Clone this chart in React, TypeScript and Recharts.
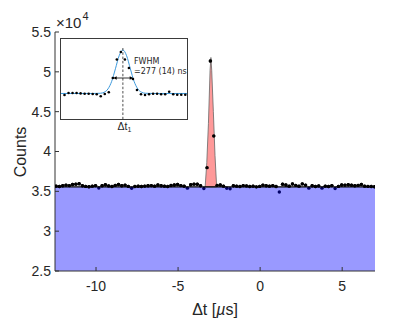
import React from "react";
import { ComposedChart, Area, Line, Scatter, XAxis, YAxis, ReferenceLine } from "recharts";

// main histogram, bin centres in µs
const binCenters = [
  -12.43, -12.23, -12.03, -11.83, -11.63, -11.43, -11.23, -11.03, -10.83, -10.63,
  -10.43, -10.23, -10.03, -9.83, -9.63, -9.43, -9.23, -9.03, -8.83, -8.63,
  -8.43, -8.23, -8.03, -7.83, -7.63, -7.43, -7.23, -7.03, -6.83, -6.63,
  -6.43, -6.23, -6.03, -5.83, -5.63, -5.43, -5.23, -5.03, -4.83, -4.63,
  -4.43, -4.23, -4.03, -3.83, -3.63, -3.43, -3.23, -3.03, -2.83, -2.63,
  -2.43, -2.23, -2.03, -1.83, -1.63, -1.43, -1.23, -1.03, -0.83, -0.63,
  -0.43, -0.23, -0.03, 0.17, 0.37, 0.57, 0.77, 0.97, 1.17, 1.37,
  1.57, 1.77, 1.97, 2.17, 2.37, 2.57, 2.77, 2.97, 3.17, 3.37,
  3.57, 3.77, 3.97, 4.17, 4.37, 4.57, 4.77, 4.97, 5.17, 5.37,
  5.57, 5.77, 5.97, 6.17, 6.37, 6.57, 6.77, 6.97,
];
const counts = [
  35650, 35600, 35700, 35780, 35720, 35850, 35900, 35950, 35700, 35620,
  35580, 35650, 35720, 35420, 35700, 35830, 35680, 35600, 35750, 35850,
  35700, 35780, 35620, 35380, 35600, 35640, 35610, 35660, 35700, 35720,
  35650, 35800, 35700, 35650, 35600, 35740, 35800, 35860, 35720, 35650,
  35400, 35820, 35900, 35880, 35700, 35350, 37970, 51360, 41950, 35750,
  35800, 35650, 35380, 35330, 35700, 35650, 35600, 35720, 35680, 35600,
  35650, 35560, 35620, 35780, 35700, 35650, 35720, 35600, 34920, 35880,
  35800, 35650, 35920, 35750, 35650, 35930, 35780, 35400, 35700, 35600,
  35680, 35400, 35650, 35600, 35720, 35350, 35620, 35800, 35780, 35820,
  35760, 35700, 35750, 35850, 35650, 35620, 35600, 35580,
];
const backgroundLevel = 35550;
const rangeStart = -12.5;
const rangeEnd = 7;

// fitted peak
const peakTimes = [-3.35, -3.25, -3.15, -3.05, -3.0, -2.95, -2.85, -2.75, -2.65];
const peakCounts = [35550, 38600, 43500, 50200, 51800, 50200, 45000, 39500, 35550];

const xTicks = [-10, -5, 0, 5];
const yTicks = [25000, 30000, 35000, 40000, 45000, 50000, 55000];

// inset (ns, arbitrary units)
const insetTimes = [
  -783, -729, -675, -621, -567, -513, -459, -405, -351, -297, -243, -189, -135, -81,
  -27, 27, 81, 135, 189, 243, 297, 351, 405, 459, 513, 567, 621, 675, 729, 783, 837,
];
const insetCounts = [
  30.0, 32.5, 32.5, 32.5, 32.0, 31.6, 31.6, 31.3, 30.9, 28.4, 31.3, 33.4, 51.3, 74.4,
  83.8, 74.4, 63.8, 50.0, 36.3, 30.9, 30.0, 30.9, 31.6, 31.6, 30.9, 30.9, 34.1, 30.9, 30.4, 30.4, 30.4,
];
const fitTimes = [-830, -400, -300, -250, -200, -150, -100, -50, 0, 50, 100, 150, 200, 250, 300, 400, 860];
const fitValues = [31.9, 31.9, 32.2, 33.5, 37.6, 47.1, 62.8, 79.1, 86.25, 79.1, 62.8, 47.1, 37.6, 33.5, 32.2, 31.9, 31.9];

const FONT = "'Liberation Sans', Arial, sans-serif";
const TXT = "#262626";

const mainDots = binCenters.map((x, i) => ({ x, y: counts[i] }));
const dotsAbove = mainDots.filter((d) => d.y > backgroundLevel);
const flat = [
  { x: rangeStart, y: backgroundLevel },
  { x: rangeEnd, y: backgroundLevel },
];
const peak = peakTimes.map((x, i) => ({ x, range: [backgroundLevel, peakCounts[i]] }));
const insetDots = insetTimes.map((x, i) => ({ x, y: insetCounts[i] }));
const fit = fitTimes.map((x, i) => ({ x, y: fitValues[i] }));

const dot = (r: number) => (p: any) => <circle cx={p.cx} cy={p.cy} r={r} fill="#000" />;

const Arrow = (p: any) => {
  const { x1, y1, x2, y2 } = p;
  return (
    <g>
      <line x1={x1 + 2} y1={y1} x2={x2 - 2} y2={y2} stroke="#000" strokeWidth={0.8} />
      <polygon points={`${x1},${y1} ${x1 + 3.5},${y1 - 1.8} ${x1 + 3.5},${y1 + 1.8}`} fill="#000" />
      <polygon points={`${x2},${y2} ${x2 - 3.5},${y2 - 1.8} ${x2 - 3.5},${y2 + 1.8}`} fill="#000" />
    </g>
  );
};

function Inset() {
  return (
    <div
      style={{
        position: "absolute",
        left: 60,
        top: 38,
        width: 128,
        height: 82,
        boxSizing: "border-box",
        border: "1px solid #3a3a3a",
        background: "#fff",
      }}
    >
      <ComposedChart width={126} height={80} margin={{ top: 0, right: 0, bottom: 0, left: 0 }}>
        <XAxis type="number" dataKey="x" domain={[-830, 860]} hide allowDataOverflow />
        <YAxis type="number" domain={[0, 100]} hide allowDataOverflow />
        <Line data={fit} dataKey="y" type="monotone" stroke="#3c99dc" strokeWidth={1} dot={false} isAnimationActive={false} />
        <ReferenceLine segment={[{ x: 0, y: 88.75 }, { x: 0, y: 0 }]} stroke="#222" strokeDasharray="2.5 1.8" strokeWidth={0.8} />
        <ReferenceLine segment={[{ x: -130, y: 51.25 }, { x: 138, y: 51.25 }]} shape={Arrow} />
        <Scatter data={insetDots} dataKey="y" shape={dot(1.3)} isAnimationActive={false} />
      </ComposedChart>
    </div>
  );
}

export default function App() {
  return (
    <div style={{ position: "absolute", left: 0, top: 0, width: 415, height: 321, background: "#fff" }}>
      <ComposedChart width={415} height={321} margin={{ top: 32, right: 40, bottom: 0, left: 0 }}>
        <XAxis
          xAxisId="bottom"
          type="number"
          dataKey="x"
          domain={[rangeStart, rangeEnd]}
          ticks={xTicks}
          allowDataOverflow
          height={50}
          tickSize={-4}
          tickMargin={14}
          stroke="#333"
          tick={{ fill: TXT, fontSize: 14, fontFamily: FONT }}
          tickFormatter={(v) => String(v)}
        />
        <XAxis
          xAxisId="top"
          orientation="top"
          type="number"
          dataKey="x"
          domain={[rangeStart, rangeEnd]}
          ticks={xTicks}
          allowDataOverflow
          height={0}
          tickSize={-4}
          tick={false}
          stroke="#555"
        />
        <YAxis
          yAxisId="left"
          type="number"
          domain={[25000, 55000]}
          ticks={yTicks}
          allowDataOverflow
          width={55}
          tickSize={-4}
          tickMargin={8}
          stroke="#333"
          tick={{ fill: TXT, fontSize: 14, fontFamily: FONT }}
          tickFormatter={(v) => String(v / 10000)}
        />
        <YAxis
          yAxisId="right"
          orientation="right"
          type="number"
          domain={[25000, 55000]}
          ticks={yTicks}
          allowDataOverflow
          width={0}
          tickSize={-4}
          tick={false}
          stroke="#555"
        />
        <Scatter
          xAxisId="bottom"
          yAxisId="left"
          data={mainDots}
          dataKey="y"
          shape={dot(1.7)}
          zIndex={50}
          isAnimationActive={false}
        />
        <Area
          xAxisId="bottom"
          yAxisId="left"
          data={flat}
          dataKey="y"
          type="linear"
          baseValue={25000}
          fill="#0000ff"
          fillOpacity={0.4}
          stroke="none"
          zIndex={100}
          isAnimationActive={false}
        />
        <Area
          xAxisId="bottom"
          yAxisId="left"
          data={peak}
          dataKey="range"
          type="linear"
          fill="#ff9999"
          fillOpacity={1}
          stroke="#666"
          strokeWidth={0.8}
          zIndex={110}
          isAnimationActive={false}
        />
        <Line
          xAxisId="top"
          yAxisId="right"
          data={flat}
          dataKey="y"
          type="linear"
          stroke="#000"
          strokeWidth={1.3}
          dot={false}
          zIndex={400}
          isAnimationActive={false}
        />
        <Scatter
          xAxisId="bottom"
          yAxisId="left"
          data={dotsAbove}
          dataKey="y"
          shape={dot(1.7)}
          zIndex={600}
          isAnimationActive={false}
        />
      </ComposedChart>
      <Inset />
      <svg width={415} height={321} style={{ position: "absolute", left: 0, top: 0, pointerEvents: "none" }}>
        <text x={56} y={27.5} fontSize={15} fontFamily={FONT} fill={TXT}>
          ×10
        </text>
        <text x={82.5} y={20} fontSize={11} fontFamily={FONT} fill={TXT}>
          4
        </text>
        <text
          x={20}
          y={152}
          transform="rotate(-90 20 152)"
          textAnchor="middle"
          dy="0.35em"
          fontSize={16}
          fontFamily={FONT}
          fill={TXT}
        >
          Counts
        </text>
        <text x={215} y={315} textAnchor="middle" fontSize={16} fontFamily={FONT} fill={TXT}>
          Δt [<tspan fontStyle="italic">µ</tspan>s]
        </text>
        <text x={134} y={64} fontSize={8} fontFamily="'DejaVu Sans', sans-serif" fill={TXT}>
          FWHM
        </text>
        <text x={134} y={73.5} fontSize={8} fontFamily="'DejaVu Sans', sans-serif" fill={TXT}>
          =277 (14) ns
        </text>
        <text x={117.5} y={130} fontSize={10.5} fontFamily={FONT} fill={TXT}>
          Δt
          <tspan fontSize={7} dy={2}>
            1
          </tspan>
        </text>
      </svg>
    </div>
  );
}
